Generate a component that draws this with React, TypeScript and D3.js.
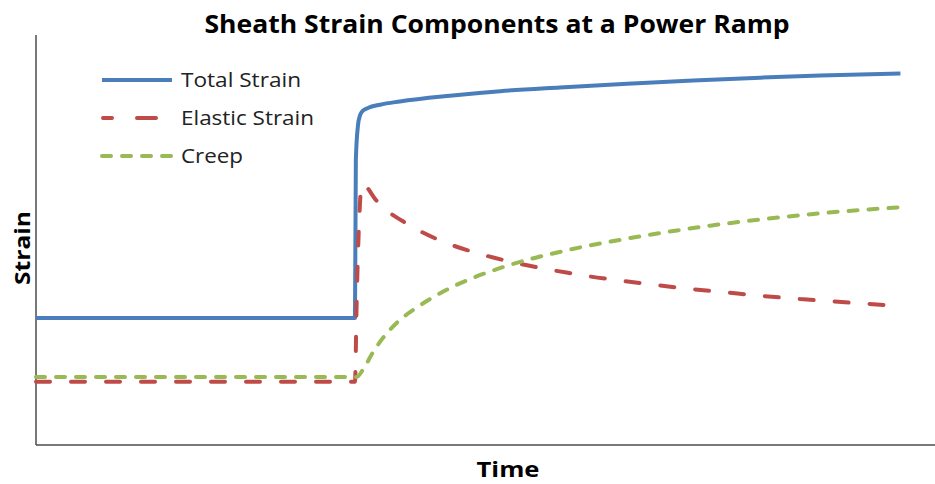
import React from "react";
import * as d3 from "d3";

// Time axis (arbitrary units) and strain values (arbitrary units)
const totalTime = [0, 36.9, 37.0, 37.25, 37.5, 37.8, 38.4, 39.8, 42.1, 47.9, 53.7, 60.6, 68.4, 76.0, 83.8, 90.7, 100];
const totalStrain = [31.0, 31.0, 69.5, 78.0, 80.5, 81.5, 82.2, 83.0, 83.8, 85.2, 86.3, 87.2, 88.1, 88.9, 89.6, 90.1, 90.6];

const elasticTime = [0, 36.9, 37.1, 37.4, 37.6, 37.75, 39.4, 40.7, 42.9, 44.4, 46.4, 48.2, 50.4, 52.2, 54.5, 56.2, 58.3, 62.1, 64.1, 67.6, 71.8, 76.0, 79.9, 83.8, 88.4, 100];
const elasticStrain = [15.4, 15.4, 35.4, 55.5, 62.5, 63.6, 59.6, 57.0, 54.0, 52.2, 50.2, 48.7, 47.2, 46.1, 44.9, 44.1, 43.2, 41.8, 41.1, 40.1, 39.0, 38.0, 37.2, 36.4, 35.6, 33.9];

const creepTime = [0, 37.1, 37.8, 39.0, 40.6, 42.1, 44.1, 45.9, 48.2, 50.6, 52.9, 54.8, 57.1, 59.8, 64.1, 66.4, 72.2, 78.0, 83.8, 90.7, 100];
const creepStrain = [16.6, 16.6, 18.3, 22.7, 27.3, 30.5, 33.6, 36.0, 38.6, 40.8, 42.6, 43.9, 45.3, 46.7, 48.7, 49.6, 51.7, 53.5, 55.0, 56.5, 58.0];

const seriesNames = ["Total Strain", "Elastic Strain", "Creep"];

const chartTitle = "Sheath Strain Components at a Power Ramp";
const xTitle = "Time";
const yTitle = "Strain";

const W = 935;
const H = 484;

export default function App() {
  const x = d3.scaleLinear().domain([0, 104]).range([36, 935]);
  const y = d3.scaleLinear().domain([0, 100]).range([445, 35]);

  const line = d3
    .line<[number, number]>()
    .x((d) => x(d[0]))
    .y((d) => y(d[1]))
    .curve(d3.curveMonotoneX);

  const zip = (a: number[], b: number[]) => a.map((t, i) => [t, b[i]] as [number, number]);

  const series = [
    { name: seriesNames[0], data: zip(totalTime, totalStrain), color: "#4A7EBB", dash: undefined as string | undefined },
    { name: seriesNames[1], data: zip(elasticTime, elasticStrain), color: "#BE4B48", dash: "14,21" },
    { name: seriesNames[2], data: zip(creepTime, creepStrain), color: "#98B954", dash: "9,11" },
  ];

  const font = "'Open Sans', 'Liberation Sans', Arial, sans-serif";
  const legendY = [80, 118, 156];
  const legendTextLen = [120, 133, 62];
  const legendDash = [undefined, "9,25,19,99", "9,11"];

  return (
    <svg
      width={W}
      height={H}
      style={{ position: "absolute", left: 0, top: 0, background: "#fff" }}
      fontFamily={font}
    >
      <text
        x={497}
        y={33}
        textAnchor="middle"
        fontSize={25}
        fontWeight="bold"
        fill="#000"
        textLength={585}
        lengthAdjust="spacingAndGlyphs"
      >
        {chartTitle}
      </text>

      {/* axes */}
      <line x1={x(0)} x2={x(0)} y1={y(100)} y2={y(0)} stroke="#4d4d4d" strokeWidth={1.5} />
      <line x1={x(0)} x2={x(104)} y1={y(0)} y2={y(0)} stroke="#4d4d4d" strokeWidth={1.5} />

      {/* series */}
      {series.map((s) => (
        <path
          key={s.name}
          d={line(s.data) || ""}
          fill="none"
          stroke={s.color}
          strokeWidth={4}
          strokeDasharray={s.dash}
          strokeLinecap={s.dash ? "round" : "butt"}
          strokeLinejoin="round"
        />
      ))}

      {/* legend */}
      {series.map((s, i) => (
        <g key={s.name}>
          <line
            x1={i === 1 ? 103 : 102}
            x2={172}
            y1={legendY[i]}
            y2={legendY[i]}
            stroke={s.color}
            strokeWidth={4}
            strokeDasharray={legendDash[i]}
            strokeLinecap={legendDash[i] ? "round" : "butt"}
          />
          <text
            x={181}
            y={legendY[i] + 7}
            fontSize={20}
            fill="#222"
            textLength={legendTextLen[i]}
            lengthAdjust="spacingAndGlyphs"
          >
            {s.name}
          </text>
        </g>
      ))}

      {/* axis titles */}
      <text
        x={508}
        y={477}
        textAnchor="middle"
        fontSize={22}
        fontWeight="bold"
        fill="#000"
        textLength={63}
        lengthAdjust="spacingAndGlyphs"
      >
        {xTitle}
      </text>
      <text
        transform="translate(30,248) rotate(-90)"
        textAnchor="middle"
        fontSize={22}
        fontWeight="bold"
        fill="#000"
        textLength={74}
        lengthAdjust="spacingAndGlyphs"
      >
        {yTitle}
      </text>
    </svg>
  );
}
